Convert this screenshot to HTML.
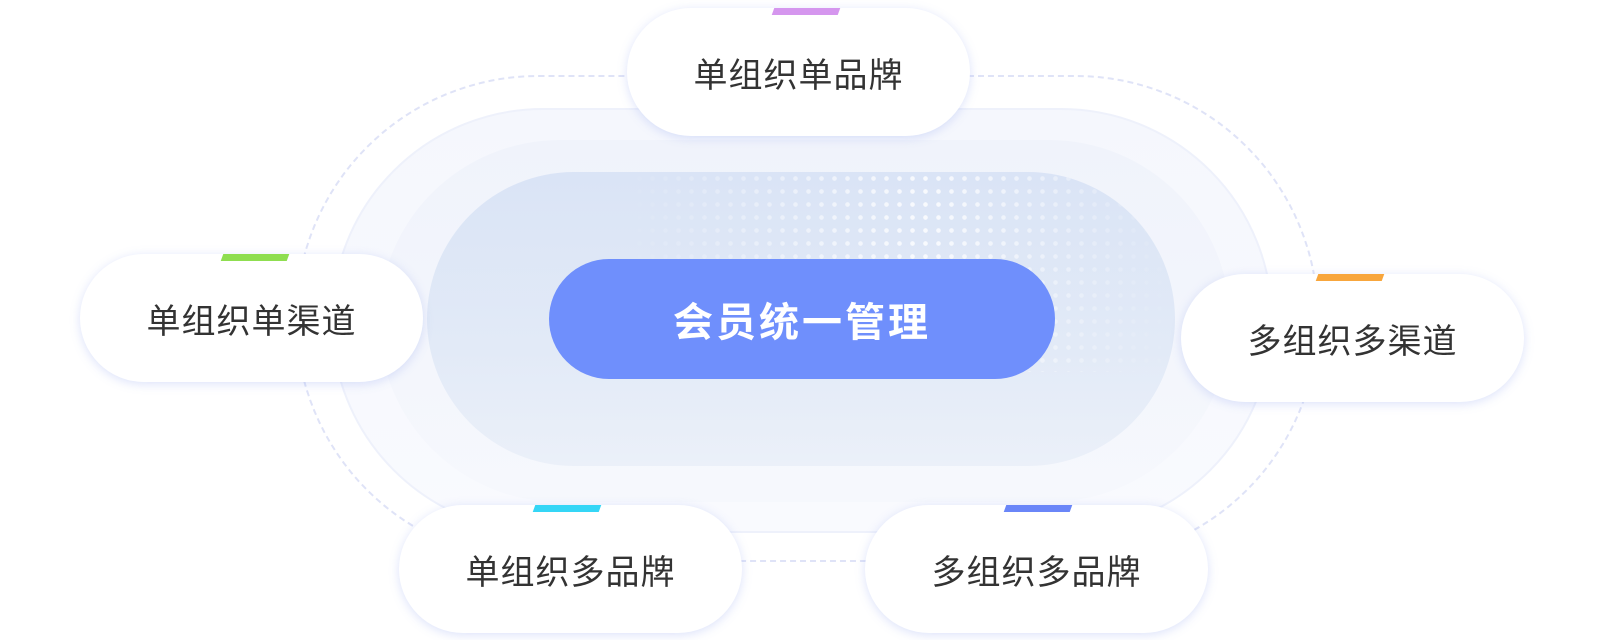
<!DOCTYPE html>
<html><head><meta charset="utf-8"><style>
html,body{margin:0;padding:0;width:1600px;height:640px;background:#fff;overflow:hidden;font-family:"Liberation Sans","Noto Sans CJK SC",sans-serif}
.a{position:absolute;box-sizing:border-box}
.dash{left:295px;top:75px;width:1024px;height:487px;border:2px dashed #dfe3f7;border-radius:244px}
.o1{left:331px;top:108px;width:942px;height:425px;border-radius:212px;background:linear-gradient(180deg,#f5f7fd,#f9fafe);border:2px solid #eef1fb}
.o2{left:379px;top:140px;width:851px;height:362px;border-radius:181px;background:linear-gradient(180deg,#f0f3fb,#f6f8fd)}
.o3{left:427px;top:172px;width:748px;height:294px;border-radius:147px;background:linear-gradient(180deg,#dae4f6 0%,#e2eaf7 60%,#ebf0f9 100%)}
.dots{left:620px;top:172px;width:555px;height:200px;border-radius:0 147px 0 0;overflow:hidden;background-image:radial-gradient(circle,rgba(255,255,255,.8) 2px,transparent 2.6px);background-size:13px 13px;-webkit-mask-image:linear-gradient(90deg,transparent 0%,#000 55%,transparent 100%);mask-image:linear-gradient(90deg,transparent 0%,#000 55%,transparent 100%)}
.c{left:549px;top:259px;width:506px;height:120px;border-radius:60px;background:#6f8ffc;color:#fff;font-size:40px;font-weight:bold;display:flex;align-items:center;justify-content:center;letter-spacing:3px}
.n{width:343px;height:128px;border-radius:64px;background:#fff;box-shadow:0 2px 10px rgba(140,160,240,.3);display:flex;align-items:center;justify-content:center;font-size:34px;color:#333;letter-spacing:1px}
.t{width:66px;height:7px;transform:skewX(-20deg)}
</style></head><body>
<div class="a dash"></div>
<div class="a o1"></div>
<div class="a o2"></div>
<div class="a o3"></div>
<div class="a dots"></div>
<div class="a c">会员统一管理</div>
<div class="a n" style="left:627px;top:8px">单组织单品牌</div>
<div class="a t" style="left:773px;top:8px;background:#d596ee"></div>
<div class="a n" style="left:80px;top:254px">单组织单渠道</div>
<div class="a t" style="left:222px;top:254px;background:#8fde50"></div>
<div class="a n" style="left:1181px;top:274px">多组织多渠道</div>
<div class="a t" style="left:1317px;top:274px;background:#f8a63c"></div>
<div class="a n" style="left:399px;top:505px">单组织多品牌</div>
<div class="a t" style="left:534px;top:505px;background:#35d6f6"></div>
<div class="a n" style="left:865px;top:505px">多组织多品牌</div>
<div class="a t" style="left:1005px;top:505px;background:#6a86f8"></div>
</body></html>
